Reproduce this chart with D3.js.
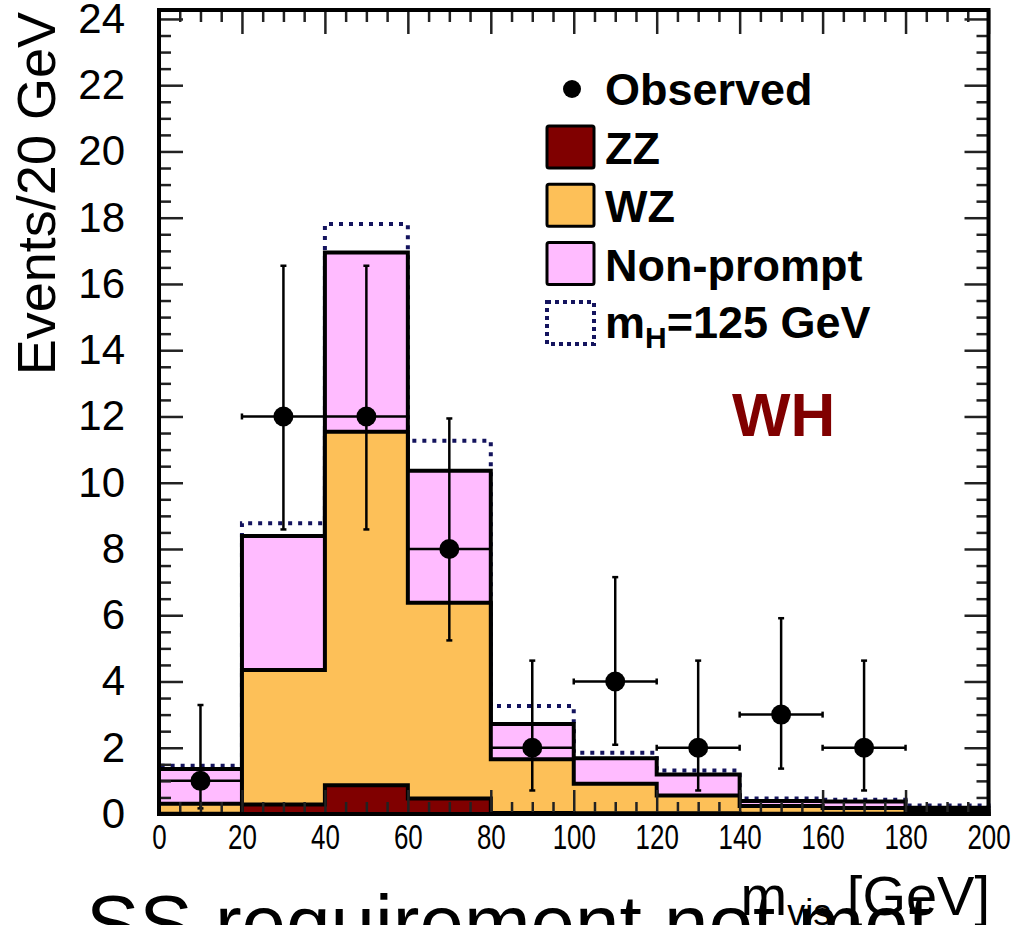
<!DOCTYPE html>
<html>
<head>
<meta charset="utf-8">
<script src="https://cdn.jsdelivr.net/npm/d3@7"></script>
<style>
  body { margin: 0; background: #fff; }
  svg text { font-family: "Liberation Sans", Arial, Helvetica, sans-serif; }
</style>
</head>
<body>
<svg id="chart" width="1018" height="925"></svg>
<script>
// bins of m_vis (GeV)
const binEdges = [0, 20, 40, 60, 80, 100, 120, 140, 160, 180, 200];

// stacked backgrounds, per bin
const zz        = [0.01, 0.29, 0.87, 0.47, 0.03, 0.02, 0.02, 0.01, 0.01, 0.01];
const wz        = [0.30, 4.06, 10.67, 5.91, 1.62, 0.89, 0.54, 0.23, 0.17, 0.08];
const nonPrompt = [1.05, 4.04, 5.41, 3.98, 1.07, 0.77, 0.63, 0.15, 0.20, 0.10];
// mH = 125 GeV signal, on top of the stack
const signal    = [0.10, 0.39, 0.86, 0.91, 0.54, 0.17, 0.12, 0.08, 0.05, 0.07];

// observed data with error band (low / high)
const obsX    = [10, 30, 50, 70, 90, 110, 130, 150, 170];
const obsN    = [1, 12, 12, 8, 2, 4, 2, 3, 2];
const obsLow  = [0.17, 8.59, 8.59, 5.24, 0.71, 2.09, 0.71, 1.37, 0.71];
const obsHigh = [3.29, 16.55, 16.55, 11.94, 4.63, 7.15, 4.63, 5.91, 4.63];

const yTicks = [0, 2, 4, 6, 8, 10, 12, 14, 16, 18, 20, 22, 24];
const xTicks = [0, 20, 40, 60, 80, 100, 120, 140, 160, 180, 200];

const COL = { zz: "#800000", wz: "#fdc058", np: "#ffbbff", sig: "#14145e" };

const svg = d3.select("#chart");

const xScale = d3.scaleLinear().domain([0, 200]).range([159, 988.5]);
const yScale = d3.scaleLinear().domain([0, 24.27]).range([814, 10]);

// cumulative stack
const cumZZ  = zz.map((d) => d);
const cumWZ  = wz.map((d, i) => d + cumZZ[i]);
const cumNP  = nonPrompt.map((d, i) => d + cumWZ[i]);
const cumSig = signal.map((d, i) => d + cumNP[i]);

// step outline of a histogram, closed on the x axis
function stepPoints(vals) {
    let pts = [[binEdges[0], 0]];
    vals.forEach((v, i) => {
        pts.push([binEdges[i], v]);
        pts.push([binEdges[i + 1], v]);
    });
    pts.push([binEdges[binEdges.length - 1], 0]);
    return pts;
}
const line = d3.line().x((d) => xScale(d[0])).y((d) => yScale(d[1]));

// signal (dotted) drawn first, stack covers it
svg.append("path")
    .attr("d", line(stepPoints(cumSig)))
    .attr("fill", "none")
    .attr("stroke", COL.sig)
    .attr("stroke-width", 4)
    .attr("stroke-dasharray", "4,6");

[[cumNP, COL.np], [cumWZ, COL.wz], [cumZZ, COL.zz]].forEach(([vals, c]) => {
    svg.append("path")
        .attr("d", line(stepPoints(vals)) + "Z")
        .attr("fill", c)
        .attr("stroke", "#000")
        .attr("stroke-width", 4)
        .attr("stroke-linejoin", "miter");
});

// observed points
const obs = obsX.map((d, i) => ({ x: d, n: obsN[i], lo: obsLow[i], hi: obsHigh[i] }));
const pts = svg.append("g").attr("stroke", "#000").attr("stroke-width", 2.5);

pts.selectAll(".hbar").data(obs).enter().append("line")
    .attr("x1", (d) => xScale(d.x - 10)).attr("x2", (d) => xScale(d.x + 10))
    .attr("y1", (d) => yScale(d.n)).attr("y2", (d) => yScale(d.n));
pts.selectAll(".vbar").data(obs).enter().append("line")
    .attr("x1", (d) => xScale(d.x)).attr("x2", (d) => xScale(d.x))
    .attr("y1", (d) => yScale(d.lo)).attr("y2", (d) => yScale(d.hi));
// caps
obs.forEach((d) => {
    [d.lo, d.hi].forEach((v) => {
        pts.append("line")
            .attr("x1", xScale(d.x) - 3).attr("x2", xScale(d.x) + 3)
            .attr("y1", yScale(v)).attr("y2", yScale(v));
    });
    [d.x - 10, d.x + 10].forEach((v) => {
        pts.append("line")
            .attr("x1", xScale(v)).attr("x2", xScale(v))
            .attr("y1", yScale(d.n) - 3).attr("y2", yScale(d.n) + 3);
    });
});
svg.selectAll(".dot").data(obs).enter().append("circle")
    .attr("cx", (d) => xScale(d.x))
    .attr("cy", (d) => yScale(d.n))
    .attr("r", 10)
    .attr("fill", "#000");

// AXES //
function addAxis(axis, tx, ty, labels, fontSize) {
    const g = svg.append("g")
        .attr("transform", `translate(${tx}, ${ty})`)
        .call(axis);
    g.select(".domain").remove();
    g.selectAll(".tick line").attr("stroke", "#222").attr("stroke-width", 2.5);
    if (!labels) g.selectAll(".tick text").remove();
    else g.selectAll(".tick text").attr("fill", "#000").style("font-size", fontSize + "px");
    return g;
}
const xMinor = d3.range(0, 201, 5).filter((d) => d % 20 !== 0);
const yMinor = d3.range(0, 24.01, 0.5).filter((d) => d % 2 !== 0);

const xAxisG = addAxis(d3.axisBottom(xScale).tickValues(xTicks).tickSizeInner(-24).tickSizeOuter(0).tickPadding(9), 0, 814, true, 36);
// x labels are narrower than the y ones in the original
xAxisG.selectAll(".tick text").attr("transform", "scale(0.72, 1)");
addAxis(d3.axisBottom(xScale).tickValues(xMinor).tickSizeInner(-12).tickSizeOuter(0), 0, 814, false);
addAxis(d3.axisTop(xScale).tickValues(xTicks).tickSizeInner(-24).tickSizeOuter(0), 0, 10, false);
addAxis(d3.axisTop(xScale).tickValues(xMinor).tickSizeInner(-12).tickSizeOuter(0), 0, 10, false);
addAxis(d3.axisLeft(yScale).tickValues(yTicks).tickSizeInner(-24).tickSizeOuter(0).tickPadding(34), 159, 0, true, 42);
addAxis(d3.axisLeft(yScale).tickValues(yMinor).tickSizeInner(-12).tickSizeOuter(0), 159, 0, false);
addAxis(d3.axisRight(yScale).tickValues(yTicks).tickSizeInner(-24).tickSizeOuter(0), 988.5, 0, false);
addAxis(d3.axisRight(yScale).tickValues(yMinor).tickSizeInner(-12).tickSizeOuter(0), 988.5, 0, false);

// frame
svg.append("rect")
    .attr("x", xScale(0)).attr("y", yScale(24.27))
    .attr("width", xScale(200) - xScale(0))
    .attr("height", yScale(0) - yScale(24.27))
    .attr("fill", "none").attr("stroke", "#000").attr("stroke-width", 4);

// axis titles
svg.append("text")
    .attr("transform", "translate(55, 12) rotate(-90)")
    .attr("text-anchor", "end")
    .style("font-size", "54px")
    .text("Events/20 GeV");

// slide text cut by the bottom edge
svg.append("text")
    .attr("x", 86).attr("y", 951)
    .style("font-size", "80px")
    .text("SS requirement not met");

const xt = svg.append("text")
    .attr("x", 990).attr("y", 915)
    .attr("text-anchor", "end")
    .style("font-size", "56px");
xt.append("tspan").text("m");
xt.append("tspan").attr("dy", 10).style("font-size", "36px").text("vis");
xt.append("tspan").attr("dy", -10).text(" [GeV]");

// LEGEND //
const leg = svg.append("g").style("font-weight", "bold").style("font-size", "45px");
leg.append("circle").attr("cx", 572).attr("cy", 89).attr("r", 9).attr("fill", "#000");
leg.append("text").attr("x", 605).attr("y", 105).text("Observed");

const legItems = [["ZZ", COL.zz], ["WZ", COL.wz], ["Non-prompt", COL.np]];
legItems.forEach(([name, c], i) => {
    const y0 = 126 + i * 58.3;
    leg.append("rect")
        .attr("x", 547).attr("y", y0).attr("width", 47).attr("height", 42)
        .attr("rx", 2)
        .attr("fill", c).attr("stroke", "#000").attr("stroke-width", 3);
    leg.append("text").attr("x", 605).attr("y", y0 + 38).text(name);
});
leg.append("rect")
    .attr("x", 547).attr("y", 302).attr("width", 47).attr("height", 42)
    .attr("fill", "none").attr("stroke", COL.sig).attr("stroke-width", 4)
    .attr("stroke-dasharray", "4,4");
const mh = leg.append("text").attr("x", 605).attr("y", 338);
mh.append("tspan").text("m");
mh.append("tspan").attr("dy", 10).style("font-size", "30px").text("H");
mh.append("tspan").attr("dy", -10).text("=125 GeV");

svg.append("text")
    .attr("x", 732).attr("y", 436)
    .attr("fill", "#800000")
    .style("font-weight", "bold").style("font-size", "62px")
    .text("WH");
</script>
</body>
</html>
